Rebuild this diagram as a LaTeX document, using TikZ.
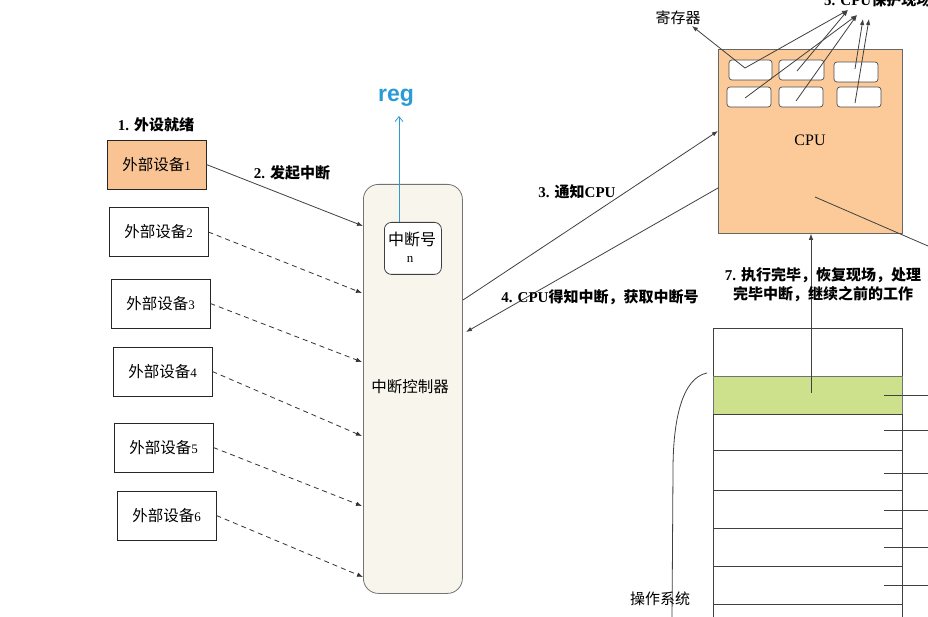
\documentclass[tikz,border=0pt]{standalone}
\usepackage{fontspec}
\setmainfont{Liberation Serif}
\newfontfamily\cjk{Noto Sans CJK SC}
\newfontfamily\cjkb{Noto Sans CJK SC Bold}
\newfontfamily\lsans{Liberation Sans}
\usetikzlibrary{arrows.meta}
\definecolor{devorange}{HTML}{FAC393}
\definecolor{cpuorange}{HTML}{FBCA98}
\definecolor{ctrlfill}{HTML}{F8F5ED}
\definecolor{memgreen}{HTML}{CDE08C}
\definecolor{inkblue}{HTML}{2A9BD6}
\tikzset{
  x=1pt,y=-1pt,
  devbox/.style={draw=black!85,line width=0.8pt,minimum width=99pt,minimum height=49pt,inner sep=0pt,font=\cjk\fontsize{15.5}{15.5}\selectfont},
  regbox/.style={draw=black!70,rounded corners=3pt,fill=white,line width=0.7pt},
  lbl/.style={font=\fontsize{15}{19}\selectfont\bfseries,inner sep=0pt,align=center},
  solidarr/.style={draw=black!75,line width=0.8pt,-{Latex[length=6pt,width=4.5pt]}},
  dasharr/.style={draw=black!80,line width=0.8pt,dashed,dash pattern=on 5pt off 4pt,-{Latex[length=6pt,width=4.5pt]}},
  plain/.style={draw=black!75,line width=0.8pt},
  memrow/.style={draw=black!75,line width=0.8pt},
  txt/.style={font=\cjk\fontsize{15}{15}\selectfont,inner sep=0pt},
}
\newcommand{\dev}[1]{外部设备{\rmfamily\fontsize{13}{13}\selectfont #1}}
\begin{document}
\begin{tikzpicture}
\useasboundingbox[fill=white] (0,0) rectangle (928,617);

% controller
\node[draw=black!55,fill=ctrlfill,rounded corners=15pt,line width=0.8pt,minimum width=99pt,minimum height=409pt,anchor=north west,inner sep=0pt] (ctrl) at (363,184) {};
\node[draw=black!75,fill=white,rounded corners=7pt,line width=0.8pt,minimum width=57pt,minimum height=52pt,anchor=north west,inner sep=0pt] (num) at (384,222) {};
\node[txt,font=\cjk\fontsize{16}{16}\selectfont] (numt) at (412,239) {中断号};
\node[font=\fontsize{13}{13}\selectfont,inner sep=0pt] (numn) at (410,259) {n};
\node[txt,font=\cjk\fontsize{15.5}{15.5}\selectfont] (ictl) at (410,387) {中断控制器};

% devices
\node[devbox,fill=devorange] (d1) at (156.5,164.5) {\dev{1}};
\node[devbox] (d2) at (158.5,232) {\dev{2}};
\node[devbox] (d3) at (160.5,303.5) {\dev{3}};
\node[devbox] (d4) at (162.5,371.5) {\dev{4}};
\node[devbox] (d5) at (163.5,447.5) {\dev{5}};
\node[devbox] (d6) at (166.5,515.5) {\dev{6}};

\node[lbl] (l1) at (156,125) {1. {\cjkb 外设就绪}};
\node[lbl] (l2) at (292,173) {2. {\cjkb 发起中断}};

\coordinate (c1) at (363,226);
\coordinate (c2) at (362,293);
\coordinate (c3) at (362,362);
\coordinate (c4) at (362,436);
\coordinate (c5) at (362,506);
\coordinate (c6) at (363,577);
\draw[solidarr] (d1.east) -- (c1);
\draw[dasharr] (d2.east) -- (c2);
\draw[dasharr] (d3.east) -- (c3);
\draw[dasharr] (d4.east) -- (c4);
\draw[dasharr] (d5.east) -- (c5);
\draw[dasharr] (d6.east) -- (c6);

% reg (blue ink)
\node[font=\lsans\fontsize{23}{23}\selectfont\bfseries,text=inkblue,inner sep=0pt] (reg) at (396,98) {reg};
\draw[inkblue,line width=0.8pt,-{Straight Barb[length=5pt,width=8pt]}] (num.north -| 399,0) -- (399,116);

% CPU
\node[draw=black!60,fill=cpuorange,line width=0.8pt,minimum width=184pt,minimum height=184pt,anchor=north west,inner sep=0pt] (cpu) at (718,49) {};
\node[font=\fontsize{16}{16}\selectfont,inner sep=0pt] (cput) at (810,140) {CPU};
\draw[regbox] (729,60) rectangle (772,80) node[midway] (r1) {};
\draw[regbox] (779,60) rectangle (824,80) node[midway] (r2) {};
\draw[regbox] (834,62) rectangle (878,82) node[midway] (r3) {};
\draw[regbox] (727,87) rectangle (771,107) node[midway] (r4) {};
\draw[regbox] (779,87) rectangle (823,107) node[midway] (r5) {};
\draw[regbox] (837,87) rectangle (881,107) node[midway] (r6) {};

\node[txt] (jcq) at (678,18) {寄存器};
\node[lbl,anchor=west] (l5) at (824,0) {5. CPU{\cjkb 保护现场}};

\coordinate (p1) at (745,68);
\coordinate (p2) at (797,71);
\coordinate (p3) at (855,69);
\coordinate (p4) at (745,98);
\coordinate (p5) at (796,101);
\coordinate (p6) at (855,103);
\coordinate (t1) at (848,10);
\coordinate (t2) at (857,15);
\coordinate (t3) at (863,19);
\coordinate (t4) at (869,19);
\draw[solidarr] (p1) -- (692,26);
\draw[solidarr] (p1) -- (t1);
\draw[solidarr] (p2) -- (t1);
\draw[solidarr] (p4) -- (t2);
\draw[solidarr] (p5) -- (t2);
\draw[solidarr] (p3) -- (t3);
\draw[solidarr] (p6) -- (t4);

\draw[plain] (815,197) -- (928,246);

% 3 and 4
\coordinate (s3) at (463,300);
\coordinate (e3) at (718,131);
\draw[solidarr] (s3) -- (e3);
\node[lbl] (l3) at (577,192) {3. {\cjkb 通知}CPU};
\coordinate (s4) at (718,188);
\coordinate (e4) at (466,332);
\draw[solidarr] (s4) -- (e4);
\node[lbl] (l4) at (600,297) {4. CPU{\cjkb 得知中断，获取中断号}};

% memory
\draw[memrow] (713,328) rectangle (902,376);
\fill[memgreen] (713,376) rectangle (902,414);
\draw[memrow,draw=black!55] (713,376) rectangle (902,414);
\draw[memrow] (713,414) rectangle (902,450);
\draw[memrow] (713,450) rectangle (902,490);
\draw[memrow] (713,490) rectangle (902,528);
\draw[memrow] (713,528) rectangle (902,566);
\draw[memrow] (713,566) rectangle (902,604);
\draw[memrow] (713,604) -- (713,620) (902,604) -- (902,620) (713,604) -- (902,604);
\foreach \yy in {395,430,473,510,547,585} \draw[plain] (884,\yy) -- (930,\yy);

\coordinate (g) at (811,393);
\draw[solidarr] (g) -- (cpu.south -| g);
\node[lbl] (l7) at (823,285) {7. {\cjkb 执行完毕，恢复现场，处理}\\{\cjkb 完毕中断，继续之前的工作}};

\coordinate (b1) at (707,373);
\coordinate (b2) at (672,620);
\draw[plain] (b1) .. controls (682,378) and (673,420) .. (673,470) -- (b2);
\node[txt] (os) at (660,599) {操作系统};
\end{tikzpicture}
\end{document}
